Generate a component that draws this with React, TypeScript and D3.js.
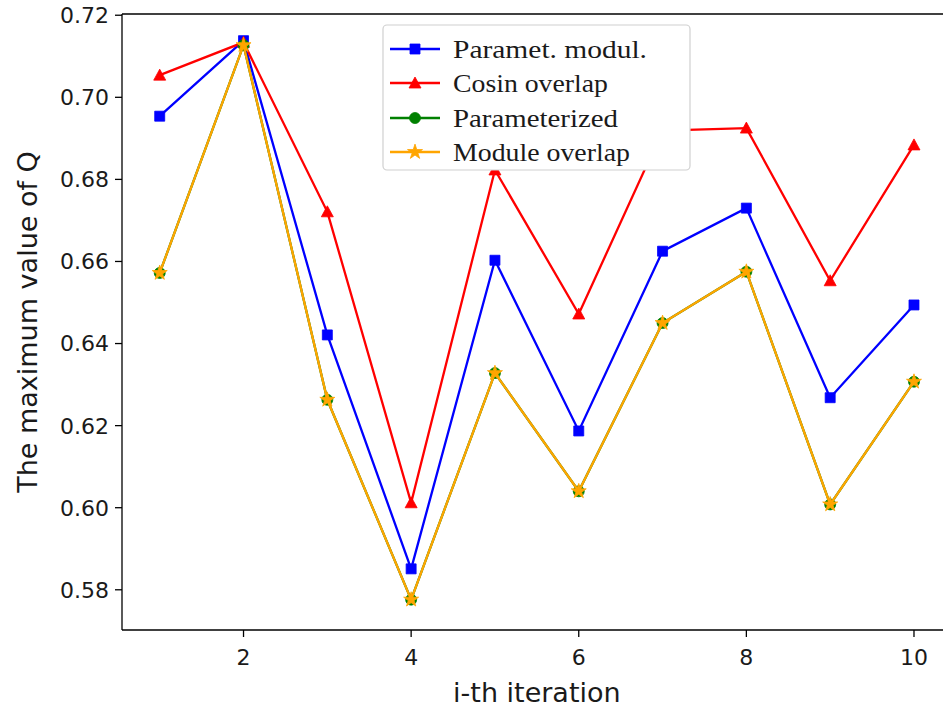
import React from "react";
import * as d3 from "d3";

const iterations = [1, 2, 3, 4, 5, 6, 7, 8, 9, 10];
const parametModul = [0.6954, 0.7138, 0.6421, 0.5851, 0.6603, 0.6187, 0.6625, 0.6730, 0.6268, 0.6494];
const cosinOverlap = [0.7054, 0.7134, 0.6721, 0.6012, 0.6823, 0.6472, 0.6919, 0.6925, 0.6553, 0.6884];
const parameterized = [0.6572, 0.7127, 0.6263, 0.5776, 0.6328, 0.6040, 0.6450, 0.6575, 0.6008, 0.6307];
const moduleOverlap = [0.6572, 0.7127, 0.6263, 0.5776, 0.6328, 0.6040, 0.6450, 0.6575, 0.6008, 0.6307];
const xTicks = [2, 4, 6, 8, 10];
const yTicks = [0.58, 0.6, 0.62, 0.64, 0.66, 0.68, 0.7, 0.72];

const seriesNames = ["Paramet. modul.", "Cosin overlap", "Parameterized", "Module overlap"];
const seriesValues = [parametModul, cosinOverlap, parameterized, moduleOverlap];
const seriesColors = ["#0000ff", "#ff0000", "#008000", "#ffa500"];
const seriesMarkers = ["square", "triangle", "circle", "star"];
const legendWidths = [194, 155, 165, 177];

const W = 943;
const H = 709;
const left = 122;
const right = 951.7;
const top = 14;
const bottom = 630;

function markerPath(kind: string): string {
  if (kind === "square") return "M-5,-5H5V5H-5Z";
  if (kind === "triangle") return "M0,-6L-6,5L6,5Z";
  if (kind === "circle") return d3.symbol().type(d3.symbolCircle).size(95)() as string;
  return d3.symbol().type(d3.symbolStar).size(70)() as string;
}

export default function App() {
  const x = d3.scaleLinear().domain([0.55, 10.45]).range([left, right]);
  const y = d3.scaleLinear().domain([0.5702, 0.7203]).range([bottom, top]);
  const line = d3
    .line<number>()
    .x((_, i) => x(iterations[i]))
    .y((d) => y(d));

  const legendX = 383;
  const legendY = 25;
  const legendRows = [49, 83, 118, 152];

  return (
    <svg
      width={W}
      height={H}
      style={{ position: "fixed", left: 0, top: 0, background: "#fff" }}
    >
      <rect x={0} y={0} width={W} height={H} fill="#fff" />
      {seriesValues.map((vals, si) => (
        <g key={si}>
          <path d={line(vals) as string} fill="none" stroke={seriesColors[si]} strokeWidth={2.3} />
          {vals.map((v, i) => (
            <path
              key={i}
              d={markerPath(seriesMarkers[si])}
              transform={`translate(${x(iterations[i])},${y(v)})`}
              fill={seriesColors[si]}
              stroke={seriesColors[si]}
              strokeWidth={0.8}
            />
          ))}
        </g>
      ))}

      {/* spines */}
      <line x1={left} x2={left} y1={top} y2={bottom} stroke="#000" strokeWidth={1.3} />
      <line x1={left} x2={W} y1={bottom} y2={bottom} stroke="#000" strokeWidth={1.3} />
      <line x1={left} x2={W} y1={top} y2={top} stroke="#000" strokeWidth={1.3} />

      {/* x ticks */}
      {xTicks.map((t) => (
        <g key={t}>
          <line x1={x(t)} x2={x(t)} y1={bottom} y2={bottom + 7} stroke="#000" strokeWidth={1.3} />
          <text
            x={x(t)}
            y={bottom + 35}
            textAnchor="middle"
            fontFamily="DejaVu Sans"
            fontSize={22}
            fill="#1a1a1a"
          >
            {String(t)}
          </text>
        </g>
      ))}
      {/* y ticks */}
      {yTicks.map((t) => (
        <g key={t}>
          <line x1={left - 7} x2={left} y1={y(t)} y2={y(t)} stroke="#000" strokeWidth={1.3} />
          <text
            x={left - 13}
            y={y(t)}
            dy="0.36em"
            textAnchor="end"
            fontFamily="DejaVu Sans"
            fontSize={22}
            fill="#1a1a1a"
          >
            {t.toFixed(2)}
          </text>
        </g>
      ))}

      <text
        x={(left + right) / 2}
        y={702}
        textAnchor="middle"
        fontFamily="DejaVu Sans"
        fontSize={27}
        fill="#1a1a1a"
      >
        i-th iteration
      </text>
      <text
        transform={`translate(37,${(top + bottom) / 2}) rotate(-90)`}
        textAnchor="middle"
        fontFamily="DejaVu Sans"
        fontSize={27}
        fill="#1a1a1a"
      >
        The maximum value of Q
      </text>

      {/* legend */}
      <rect
        x={legendX}
        y={legendY}
        width={307}
        height={145}
        rx={4}
        fill="#fff"
        stroke="#d0d0d0"
        strokeWidth={1.2}
      />
      {seriesNames.map((name, si) => (
        <g key={name}>
          <line
            x1={390}
            x2={440}
            y1={legendRows[si]}
            y2={legendRows[si]}
            stroke={seriesColors[si]}
            strokeWidth={2.3}
          />
          <path
            d={markerPath(seriesMarkers[si])}
            transform={`translate(415,${legendRows[si]})`}
            fill={seriesColors[si]}
            stroke={seriesColors[si]}
            strokeWidth={0.8}
          />
          <text
            x={453}
            y={legendRows[si] + 9}
            fontFamily="'Liberation Serif', 'DejaVu Serif', serif"
            fontSize={26}
            textLength={legendWidths[si]}
            lengthAdjust="spacingAndGlyphs"
            fill="#1a1a1a"
          >
            {name}
          </text>
        </g>
      ))}
    </svg>
  );
}
